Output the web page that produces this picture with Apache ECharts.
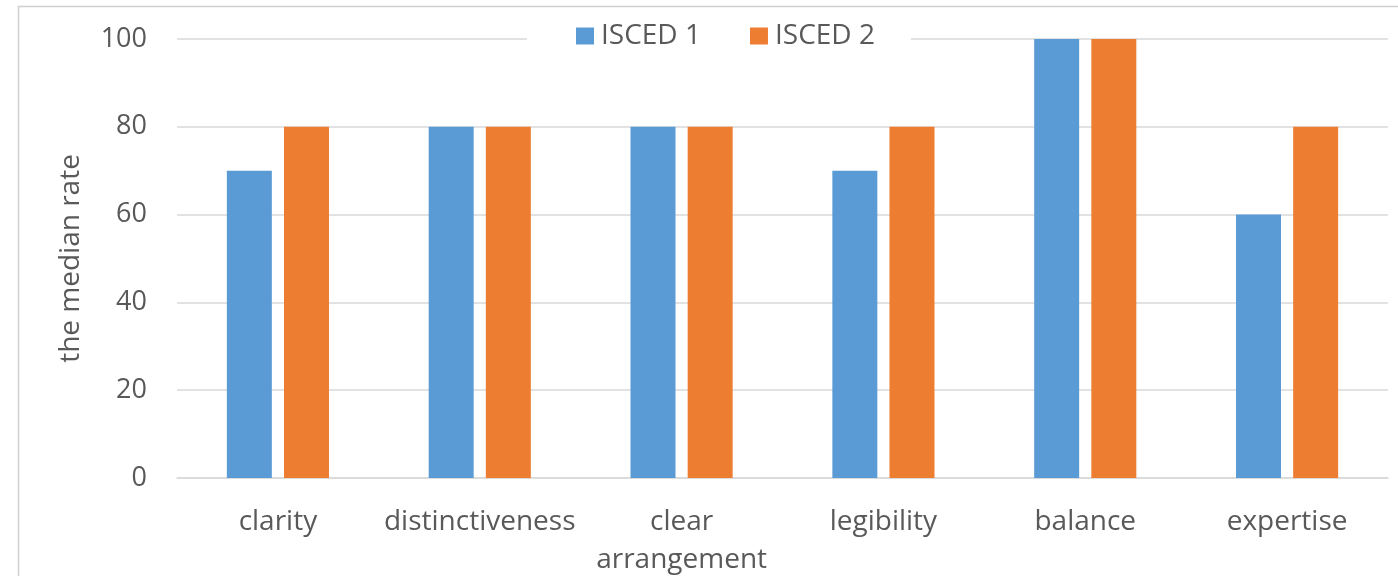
<!DOCTYPE html>
<html>
<head>
<meta charset="utf-8">
<script src="https://cdn.jsdelivr.net/npm/echarts@6/dist/echarts.min.js"></script>
<style>
  html, body { margin: 0; padding: 0; background: #ffffff; }
  #chart { width: 1398px; height: 576px; }
</style>
</head>
<body>
<div id="chart"></div>
<script>
// Median rating per criterion, by education level
const categories = ['clarity', 'distinctiveness', 'clear\narrangement', 'legibility', 'balance', 'expertise'];
const isced1 = [70, 80, 80, 70, 100, 60];
const isced2 = [80, 80, 80, 80, 100, 80];
const yTicks = [0, 20, 40, 60, 80, 100];

const textColor = '#595959';
const gridColor = '#d9d9d9';
const fontFamily = '"Open Sans", "Noto Sans", sans-serif';

const chart = echarts.init(document.getElementById('chart'), null, { renderer: 'canvas' });

chart.setOption({
  backgroundColor: '#ffffff',
  animation: false,
  graphic: [{
    type: 'rect',
    z: -10,
    shape: { x: 18.5, y: 6.5, width: 1500, height: 700 },
    style: { fill: 'none', stroke: '#d0d0d0', lineWidth: 1.5 }
  }],
  legend: {
    left: 527,
    top: 20,
    padding: [2, 36, 2, 49],
    backgroundColor: '#ffffff',
    itemWidth: 18,
    itemHeight: 17,
    itemGap: 49,
    icon: 'rect',
    textStyle: { color: textColor, fontSize: 28, fontFamily: fontFamily, padding: [0, 0, 0, 2] },
    data: ['ISCED 1', 'ISCED 2'],
    z: 10
  },
  grid: { left: 177, right: 10, top: 39, bottom: 98, outerBoundsMode: 'none', containLabel: false },
  xAxis: {
    type: 'category',
    data: categories,
    axisLine: { show: true, lineStyle: { color: gridColor, width: 1.5 } },
    axisTick: { show: false },
    axisLabel: {
      color: textColor, fontSize: 28, fontFamily: fontFamily,
      margin: 25, lineHeight: 38, interval: 0
    }
  },
  yAxis: {
    type: 'value',
    min: yTicks[0],
    max: yTicks[yTicks.length - 1],
    interval: yTicks[1] - yTicks[0],
    name: 'the median rate',
    nameLocation: 'middle',
    nameGap: 92,
    nameTextStyle: { color: textColor, fontSize: 28, fontFamily: fontFamily },
    axisLine: { show: false },
    axisTick: { show: false },
    splitLine: { lineStyle: { color: gridColor, width: 1.5 } },
    axisLabel: { color: textColor, fontSize: 27, fontFamily: fontFamily, margin: 30 }
  },
  series: [
    {
      name: 'ISCED 1', type: 'bar', data: isced1,
      barWidth: 45, barGap: '27%',
      itemStyle: { color: '#5b9bd5' }
    },
    {
      name: 'ISCED 2', type: 'bar', data: isced2,
      barWidth: 45, barGap: '27%',
      itemStyle: { color: '#ed7d31' }
    }
  ]
});
</script>
</body>
</html>
